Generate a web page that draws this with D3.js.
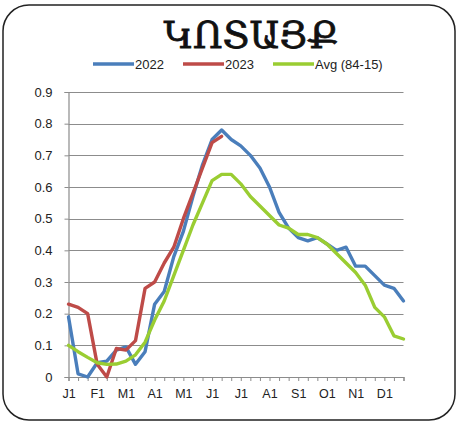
<!DOCTYPE html>
<html>
<head>
<meta charset="utf-8">
<script src="https://cdn.jsdelivr.net/npm/d3@7"></script>
<style>
    body { margin: 0; background: #fff; }
    text { font-family: "Liberation Sans", Arial, sans-serif; }
</style>
</head>
<body>
<div id="chart"></div>
<script>

// dekads of the year, labels only on the first dekad of each month
var monthLabels = ["J1", "F1", "M1", "A1", "M1", "J1", "J1", "A1", "S1", "O1", "N1", "D1"];
var dekads = d3.range(36);

var yTicks = [0, 0.1, 0.2, 0.3, 0.4, 0.5, 0.6, 0.7, 0.8, 0.9];

var values2022 = [0.19, 0.01, 0.0, 0.045, 0.05, 0.085, 0.095, 0.04, 0.08, 0.23, 0.27, 0.38,
    0.46, 0.57, 0.67, 0.75, 0.78, 0.75, 0.73, 0.70, 0.66, 0.60, 0.52, 0.47,
    0.44, 0.43, 0.44, 0.42, 0.40, 0.41, 0.35, 0.35, 0.32, 0.29, 0.28, 0.24];

var values2023 = [0.23, 0.22, 0.20, 0.04, 0.0, 0.09, 0.085, 0.115, 0.28, 0.30, 0.36, 0.41,
    0.50, 0.58, 0.66, 0.74, 0.76];

var valuesAvg = [0.10, 0.08, 0.062, 0.045, 0.04, 0.041, 0.05, 0.07, 0.11, 0.18, 0.24, 0.32,
    0.40, 0.48, 0.55, 0.62, 0.64, 0.64, 0.61, 0.57, 0.54, 0.51, 0.48, 0.47,
    0.45, 0.45, 0.44, 0.42, 0.39, 0.36, 0.33, 0.29, 0.22, 0.19, 0.13, 0.12];

var seriesNames = ["2022", "2023", "Avg (84-15)"];
var seriesColors = ["#4a7ebb", "#be4b48", "#9acd32"];
var seriesValues = [values2022, values2023, valuesAvg];

var chartWidth = 459, chartHeight = 424;
var plotLeft = 68.5, plotRight = 403.5, plotTop = 92, plotBottom = 377;

var svg = d3.select("#chart")
    .append("svg")
    .attr("width", chartWidth)
    .attr("height", chartHeight);

// outer frame
svg.append("rect")
    .attr("x", 3)
    .attr("y", 5)
    .attr("width", 452)
    .attr("height", 415)
    .attr("rx", 26)
    .attr("fill", "#fff")
    .attr("stroke", "#222")
    .attr("stroke-width", 1.5);

/* title */
var title = svg.append("text")
    .attr("x", 251)
    .attr("y", 48)
    .attr("text-anchor", "middle")
    .style("font-family", "'DejaVu Serif', serif")
    .style("font-size", "38px")
    .attr("fill", "#111")
    .attr("stroke", "#111")
    .attr("stroke-width", 0.8)
    .text("ԿՈՏԱՅՔ");

// stretch the title to the width seen in the picture
var tw = title.node().getBBox().width;
title.style("font-size", (38 * 175 / tw) + "px");

const xScale = d3.scalePoint()
    .domain(dekads)
    .range([plotLeft, plotRight]);

const yScale = d3.scaleLinear()
    .domain([0, 0.9])
    .range([plotBottom, plotTop]);

/* grid */
svg.append("g")
    .selectAll("line")
    .data(yTicks.slice(1))
    .enter()
    .append("line")
    .attr("x1", plotLeft)
    .attr("x2", plotRight)
    .attr("y1", function (d) { return Math.round(yScale(d)) + 0.5; })
    .attr("y2", function (d) { return Math.round(yScale(d)) + 0.5; })
    .attr("stroke", "#8c8c8c")
    .attr("stroke-width", 1);

/* axis */
var yAxis = svg.append("g")
    .attr("transform", "translate(" + plotLeft + ",0)")
    .call(d3.axisLeft(yScale)
        .tickValues(yTicks)
        .tickSize(4)
        .tickPadding(12)
        .tickFormat(function (d) { return d === 0 ? "0" : d3.format(".1f")(d); }));

var xAxis = svg.append("g")
    .attr("transform", "translate(0," + plotBottom + ")")
    .call(d3.axisBottom(xScale)
        .tickSize(4)
        .tickPadding(8)
        .tickFormat(function (d) { return d % 3 === 0 ? monthLabels[d / 3] : ""; }));

[yAxis, xAxis].forEach(function (ax) {
    ax.select(".domain").attr("stroke", "#8c8c8c").attr("stroke-width", 1.2);
    ax.selectAll(".tick line").attr("stroke", "#8c8c8c");
    ax.selectAll("text")
        .attr("fill", "#222")
        .style("font-size", "12.5px");
});
yAxis.selectAll("text").style("font-size", "13px");

/* lines */
var line = d3.line()
    .defined(function (d) { return d != null; })
    .x(function (d, i) { return xScale(i); })
    .y(function (d) { return yScale(d); });

svg.selectAll(".series")
    .data(seriesValues)
    .enter()
    .append("path")
    .attr("class", "series")
    .attr("d", function (d) { return line(d); })
    .attr("fill", "none")
    .attr("stroke", function (d, i) { return seriesColors[i]; })
    .attr("stroke-width", 3.4)
    .attr("stroke-linejoin", "round")
    .attr("stroke-linecap", "round");

/* legend */
var legendX = [93, 183, 273];
var legend = svg.selectAll(".legend")
    .data(seriesNames)
    .enter()
    .append("g")
    .attr("class", "legend")
    .attr("transform", function (d, i) { return "translate(" + legendX[i] + ",64)"; });

legend.append("line")
    .attr("x1", 0)
    .attr("x2", 41)
    .attr("stroke", function (d, i) { return seriesColors[i]; })
    .attr("stroke-width", 3.4);

legend.append("text")
    .attr("x", 42)
    .attr("y", 5)
    .style("font-size", "13px")
    .attr("fill", "#222")
    .text(function (d) { return d; });

</script>
</body>
</html>
